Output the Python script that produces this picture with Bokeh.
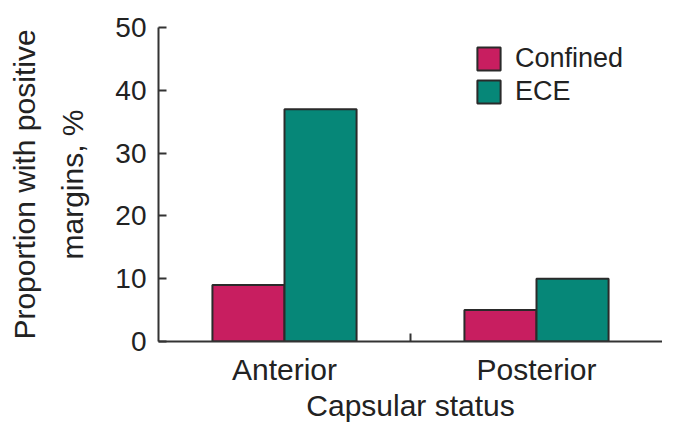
from bokeh.plotting import figure
from bokeh.models import ColumnDataSource, FixedTicker, Legend, LegendItem, Range1d
from bokeh.embed import file_html
from bokeh.resources import INLINE

categories = ["Anterior", "Posterior"]
series_names = ["Confined", "ECE"]
confined = [9, 5]
ece = [37, 10]
y_ticks = [0, 10, 20, 30, 40, 50]
colors = ["#C81E60", "#068778"]

FONT = "Liberation Sans"
bar_w = 0.286

centers = [i + 0.5 for i in range(len(categories))]
src = ColumnDataSource(dict(
    cat=categories,
    xc=[c - bar_w / 2 for c in centers],
    xe=[c + bar_w / 2 for c in centers],
    confined=confined,
    ece=ece,
))

p = figure(width=662, height=424, output_backend="svg", toolbar_location=None,
           x_range=Range1d(0, len(categories)), y_range=Range1d(0, 50),
           min_border_left=158, min_border_top=27, min_border_bottom=83, min_border_right=0)
p.outline_line_color = None
p.grid.grid_line_color = None
p.background_fill_color = "white"

r1 = p.vbar(x="xc", top="confined", width=bar_w, source=src, fill_color=colors[0],
            line_color="#2a2a2a", line_width=2)
r2 = p.vbar(x="xe", top="ece", width=bar_w, source=src, fill_color=colors[1],
            line_color="#2a2a2a", line_width=2)

# axes
for ax in (p.xaxis[0], p.yaxis[0]):
    ax.axis_line_color = "#333333"
    ax.axis_line_width = 2
    ax.major_tick_line_color = "#333333"
    ax.major_tick_line_width = 2
    ax.minor_tick_line_color = "#333333"
    ax.minor_tick_line_width = 2
    ax.major_label_text_font = FONT
    ax.major_label_text_color = "#222222"
    ax.axis_label_text_font = FONT
    ax.axis_label_text_font_size = "30px"
    ax.axis_label_text_font_style = "normal"
    ax.axis_label_text_color = "#222222"

p.yaxis.ticker = FixedTicker(ticks=y_ticks, minor_ticks=[])
p.yaxis.major_label_text_font_size = "28px"
p.yaxis.major_tick_in = 8
p.yaxis.major_tick_out = 0
p.yaxis.minor_tick_in = 0
p.yaxis.minor_tick_out = 0
p.yaxis.major_label_standoff = 12
p.yaxis.axis_label = "Proportion with positive\nmargins, %"
p.yaxis.axis_label_text_line_height = 1.45
p.yaxis.axis_label_standoff = 23

p.xaxis.ticker = FixedTicker(ticks=centers, minor_ticks=[1])
p.xaxis.major_label_text_font_size = "30px"
p.xaxis.major_tick_in = 0
p.xaxis.major_tick_out = 0
p.xaxis.minor_tick_in = 8
p.xaxis.minor_tick_out = 0
p.xaxis.major_label_overrides = {c: n for c, n in zip(centers, categories)}
p.xaxis.major_label_standoff = 11
p.xaxis.axis_label = "Capsular status"
p.xaxis.axis_label_standoff = 0

legend = Legend(items=[LegendItem(label=series_names[0], renderers=[r1]),
                       LegendItem(label=series_names[1], renderers=[r2])],
                location="top_right")
legend.border_line_color = None
legend.background_fill_alpha = 0
legend.label_text_font = FONT
legend.label_text_font_size = "27px"
legend.label_text_color = "#222222"
legend.glyph_width = 29
legend.glyph_height = 29
legend.spacing = 2
legend.label_standoff = 12
legend.margin = 0
legend.padding = 0
legend.label_height = 29
p.add_layout(legend)
legend.location = (316, 234)

open("out.html", "w").write(file_html(p, INLINE))
